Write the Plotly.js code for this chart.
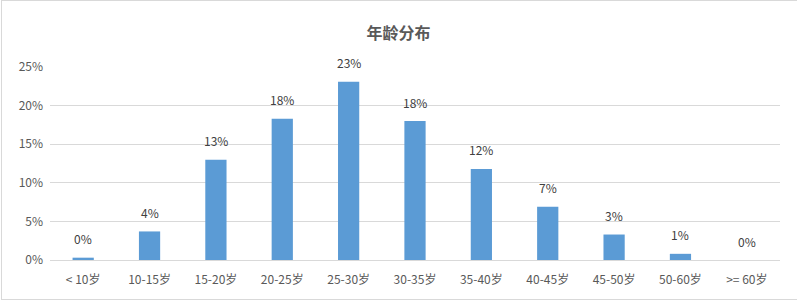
<!DOCTYPE html>
<html>
<head>
<meta charset="utf-8">
<script src="https://cdn.plot.ly/plotly-3.0.1.min.js"></script>
<style>
html,body{margin:0;padding:0;background:#fff;}
#chart{width:797px;height:301px;position:relative;}
#frame{position:absolute;left:1px;top:0;width:820px;height:298px;border:1px solid #d9d9d9;border-right:none;pointer-events:none;}
</style>
</head>
<body>
<div style="position:relative;width:797px;height:301px;overflow:hidden;">
<div id="chart"></div>
<div id="frame"></div>
</div>
<script>
const categories = ["< 10岁","10-15岁","15-20岁","20-25岁","25-30岁","30-35岁","35-40岁","40-45岁","45-50岁","50-60岁",">= 60岁"];
const shares = [0.003,0.037,0.130,0.183,0.231,0.180,0.118,0.069,0.033,0.008,0];
const yTicks = [0,0.05,0.10,0.15,0.20,0.25];
const yTickLabels = ["0%","5%","10%","15%","20%","25%"];

const font = "'Noto Sans CJK SC', 'Noto Sans', sans-serif";
const trace = {
  type: 'bar',
  x: categories,
  y: shares,
  marker: {color: '#5b9bd5'},
  textposition: 'none',
  cliponaxis: false,
  hoverinfo: 'none'
};
const labels = categories.map((c, i) => ({
  x: c, y: shares[i], xref: 'x', yref: 'y',
  text: Math.round(shares[i] * 100) + '%',
  showarrow: false, yanchor: 'middle', xanchor: 'center', yshift: 19,
  font: {family: font, size: 12, color: '#404040'}
}));
const layout = {
  width: 797, height: 301,
  margin: {l: 50, r: 17, t: 67, b: 41, pad: 0},
  paper_bgcolor: '#ffffff',
  plot_bgcolor: '#ffffff',
  bargap: 0.68,
  showlegend: false,
  annotations: labels,
  title: {text: '<b>年龄分布</b>', x: 0.5, xanchor: 'center', y: 0.89, yanchor: 'middle',
          font: {family: font, size: 16, color: '#595959'}},
  xaxis: {
    type: 'category',
    showgrid: false, zeroline: false,
    showline: true, linecolor: '#d9d9d9', linewidth: 1,
    ticks: '', tickfont: {family: font, size: 12, color: '#595959'},
    ticklabelstandoff: 9
  },
  yaxis: {
    range: [0, 0.25],
    tickvals: yTicks, ticktext: yTickLabels,
    showgrid: true, gridcolor: '#d9d9d9', gridwidth: 1,
    zeroline: false, showline: false,
    ticks: '', tickfont: {family: font, size: 12, color: '#595959'},
    ticklabelstandoff: 6
  }
};
Plotly.newPlot('chart', [trace], layout, {displayModeBar: false, staticPlot: true});
</script>
</body>
</html>
